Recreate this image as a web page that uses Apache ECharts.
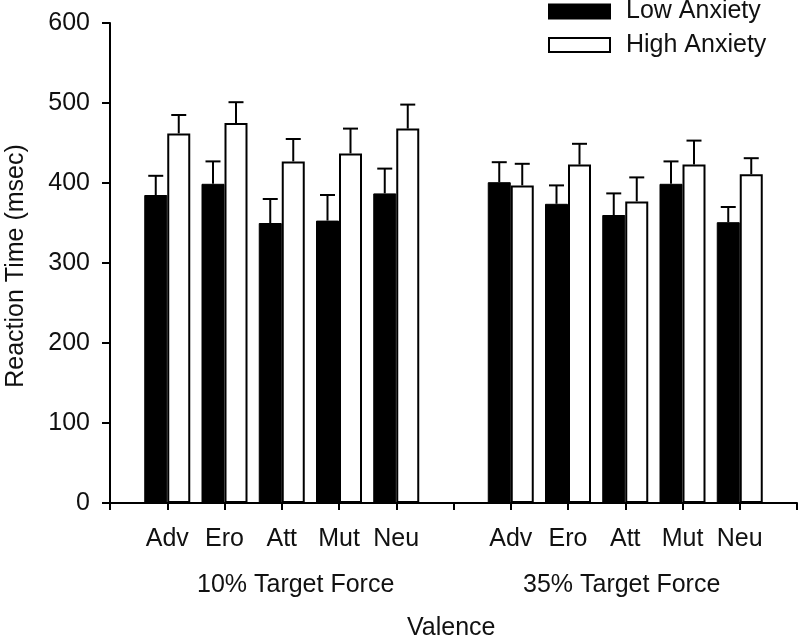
<!DOCTYPE html>
<html>
<head>
<meta charset="utf-8">
<script src="https://cdn.jsdelivr.net/npm/echarts@6/dist/echarts.min.js"></script>
<style>html,body{margin:0;padding:0;background:#fff;}#c{width:800px;height:643px;}</style>
</head>
<body>
<div id="c"></div>
<script>
var valence = ['Adv', 'Ero', 'Att', 'Mut', 'Neu'];
var groupNames = ['10% Target Force', '35% Target Force'];
var lowMean10 = [385, 399, 350, 353, 387];
var lowErr10 = [24, 28, 30, 32, 31];
var highMean10 = [462, 475, 427, 437, 468];
var highErr10 = [23, 26, 28, 31, 30];
var lowMean35 = [401, 374, 360, 399, 351];
var lowErr35 = [25, 23, 27, 28, 19];
var highMean35 = [397, 423, 377, 423, 411];
var highErr35 = [27, 26, 30, 30, 20];
var yTicks = [0, 100, 200, 300, 400, 500, 600];

// category layout: blank, 5 valences, blank, 5 valences, blank
var categories = [''].concat(valence, [''], valence, ['']);
function seriesData(a, b) { return [null].concat(a, [null], b, [null]); }
var lowData = seriesData(lowMean10, lowMean35);
var highData = seriesData(highMean10, highMean35);
function errData(m1, e1, m2, e2) {
  var out = [];
  for (var i = 0; i < m1.length; i++) out.push([i + 1, m1[i], e1[i]]);
  for (var j = 0; j < m2.length; j++) out.push([j + 7, m2[j], e2[j]]);
  return out;
}
var lowErrData = errData(lowMean10, lowErr10, lowMean35, lowErr35);
var highErrData = errData(highMean10, highErr10, highMean35, highErr35);

var BW = 23;
var FONT = 'Liberation Sans, Arial, sans-serif';
var FS = 25;
function errRender(offset) {
  return function (params, api) {
    var base = api.coord([api.value(0), api.value(1)]);
    var top = api.coord([api.value(0), api.value(1) + api.value(2)]);
    var x = base[0] + offset;
    return {
      type: 'group',
      children: [
        { type: 'line', shape: { x1: x, y1: base[1], x2: x, y2: top[1] }, style: { stroke: '#000', lineWidth: 2 } },
        { type: 'line', shape: { x1: x - 7.5, y1: top[1], x2: x + 7.5, y2: top[1] }, style: { stroke: '#000', lineWidth: 2 } }
      ]
    };
  };
}

var chart = echarts.init(document.getElementById('c'), null, { renderer: 'canvas' });
chart.setOption({
  animation: false,
  backgroundColor: '#fff',
  textStyle: { fontFamily: FONT, color: '#111' },
  grid: { left: 110, right: 3, top: 23, bottom: 140, containLabel: false },
  legend: {
    left: 548, top: -1, padding: 0, orient: 'vertical', itemWidth: 61, itemHeight: 14, itemGap: 8.5,
    icon: 'rect',
    data: ['Low Anxiety', 'High Anxiety'],
    textStyle: { fontSize: FS, lineHeight: 25, fontFamily: FONT, color: '#111', padding: [0, 0, 0, 11] }
  },
  xAxis: {
    type: 'category', data: categories, boundaryGap: false,
    axisLine: { lineStyle: { color: '#000', width: 2 } },
    axisTick: { show: true, length: 7, lineStyle: { color: '#000', width: 2 } },
    axisLabel: { fontSize: FS, color: '#111', margin: 24, interval: 0, fontFamily: FONT },
    splitLine: { show: false }
  },
  yAxis: {
    type: 'value', min: yTicks[0], max: yTicks[yTicks.length - 1], interval: 100,
    axisLine: { show: true, lineStyle: { color: '#000', width: 2 } },
    axisTick: { show: true, length: 8, lineStyle: { color: '#000', width: 2 } },
    axisLabel: { fontSize: FS, color: '#111', margin: 20, fontFamily: FONT },
    splitLine: { show: false }
  },
  graphic: [
    { type: 'text', left: 197, top: 573, style: { text: groupNames[0], font: FS + 'px ' + FONT, fill: '#111' } },
    { type: 'text', left: 523, top: 573, style: { text: groupNames[1], font: FS + 'px ' + FONT, fill: '#111' } },
    { type: 'text', left: 407, top: 616, style: { text: 'Valence', font: FS + 'px ' + FONT, fill: '#111' } },
    { type: 'text', x: 4, y: 266, rotation: Math.PI / 2, style: { text: 'Reaction Time (msec)', font: FS + 'px ' + FONT, fill: '#111', align: 'center', verticalAlign: 'top' } }
  ],
  series: [
    { name: 'Low Anxiety', type: 'bar', data: lowData, barWidth: BW, barGap: '0%',
      itemStyle: { color: '#000', borderColor: '#000', borderWidth: 1 } },
    { name: 'High Anxiety', type: 'bar', data: highData, barWidth: BW, barGap: '0%',
      itemStyle: { color: '#fff', borderColor: '#000', borderWidth: 2 } },
    { name: 'errLow', type: 'custom', data: lowErrData, renderItem: errRender(-BW / 2), z: 3, encode: { x: 0, y: 1 } },
    { name: 'errHigh', type: 'custom', data: highErrData, renderItem: errRender(BW / 2), z: 3, encode: { x: 0, y: 1 } }
  ]
});
</script>
</body>
</html>
